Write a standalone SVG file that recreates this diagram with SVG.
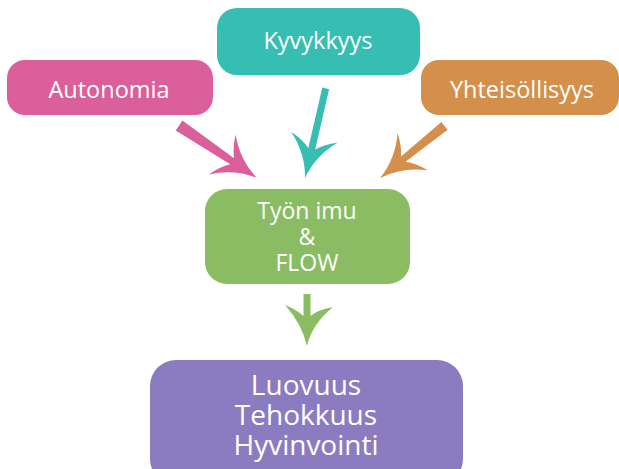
<svg xmlns="http://www.w3.org/2000/svg" width="619" height="469" viewBox="0 0 619 469">
<style>
.lbl{font-family:"Open Sans","Noto Sans","Liberation Sans",sans-serif;fill:#fff;text-anchor:middle}
.t1{font-size:23.5px}
.t2{font-size:23px}
.t3{font-size:28px}
</style>
<rect width="619" height="469" fill="#fff"/>
<g id="connectors">
<path fill="#DB5F9A" transform="translate(257,178) rotate(-56)" d="M0,0 Q-5,-24 -24,-42 Q-11,-37 -3.5,-30 L-6,-94 L6,-94 L3.5,-30 Q11,-37 24,-42 Q5,-24 0,0 Z"/>
<path fill="#37BEB2" transform="translate(305,178) rotate(13)" d="M0,0 Q-5,-24 -24,-42 Q-11,-37 -3.5,-30 L-3.5,-92 L3.5,-92 L3.5,-30 Q11,-37 24,-42 Q5,-24 0,0 Z"/>
<path fill="#D4904A" transform="translate(380,178) rotate(51)" d="M0,0 Q-5,-24 -24,-42 Q-11,-37 -3.5,-30 L-5,-83 L5,-83 L3.5,-30 Q11,-37 24,-42 Q5,-24 0,0 Z"/>
<path fill="#8ABD63" transform="translate(307,346)" d="M0,0 Q-5,-22 -22,-41 Q-10,-36 -3.5,-30 L-3.5,-52 L3.5,-52 L3.5,-30 Q10,-36 26,-39 Q5,-22 0,0 Z"/>
</g>
<g id="kyvykkyys">
<rect x="217" y="8" width="203" height="67" rx="20" fill="#37BEB2"/>
<text class="lbl t1" x="318" y="49">Kyvykkyys</text>
</g>
<g id="autonomia">
<rect x="7" y="60" width="206" height="55" rx="18" fill="#DB5F9A"/>
<text class="lbl t1" x="109" y="98">Autonomia</text>
</g>
<g id="yhteisollisyys">
<rect x="421" y="60" width="198" height="55" rx="18" fill="#D4904A"/>
<text class="lbl t1" x="522" y="98">Yhteisöllisyys</text>
</g>
<g id="flow">
<rect x="205" y="189" width="205" height="95" rx="22" fill="#8ABD63"/>
<text class="lbl t2" x="307" y="219">Työn imu</text>
<text class="lbl t2" x="307" y="245">&amp;</text>
<text class="lbl t2" x="307" y="271">FLOW</text>
</g>
<g id="tulokset">
<rect x="150" y="360" width="313" height="125" rx="26" fill="#8B7CC1"/>
<text class="lbl t3" x="306" y="395">Luovuus</text>
<text class="lbl t3" x="306" y="425">Tehokkuus</text>
<text class="lbl t3" x="306" y="455">Hyvinvointi</text>
</g>
</svg>
